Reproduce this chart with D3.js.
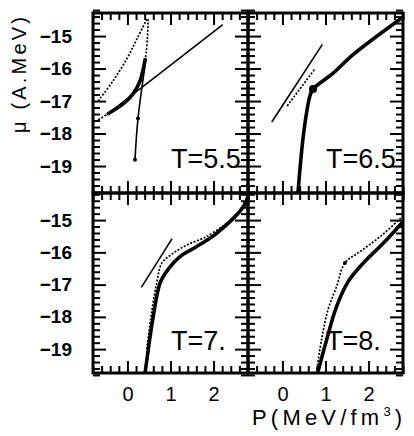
<!DOCTYPE html>
<html>
<head>
<meta charset="utf-8">
<script src="https://cdn.jsdelivr.net/npm/d3@7"></script>
<style>
  body { margin: 0; background: #fff; }
  svg { display: block; font-family: "Liberation Sans", Arial, sans-serif; }
  .axis path { display: none; }
  .axis line { stroke: #000; stroke-width: 2; }
  .axis text { fill: #000; }
  .ylab text { font-size: 19px; font-weight: bold; }
  .xlab text { font-size: 20px; }
</style>
</head>
<body>
<div id="chart"></div>
<script>
'use strict';

// panel labels and tick labels
const temps = ['T=5.5', 'T=6.5', 'T=7.', 'T=8.'];
const xTicks = [0, 1, 2];
const yTicks = [-15, -16, -17, -18, -19];

// curves, [P, mu] pairs
const thin55 = [[-0.45, -17.39], [2.20, -14.66]];
const thick55 = [[-0.45, -17.39], [-0.10, -17.09], [0.13, -16.78], [0.29, -16.39], [0.41, -15.72]];
const steep55 = [[0.175, -18.81], [0.245, -17.54], [0.43, -15.72]];
const dotA55 = [[-0.68, -17.0], [-0.34, -16.39], [-0.01, -15.69], [0.22, -15.09], [0.45, -14.48]];
const dotB55 = [[-0.75, -17.63], [-0.45, -17.39], [0.13, -16.78], [0.41, -15.72], [0.48, -14.48]];
const marks55 = [[0.175, -18.81], [0.245, -17.54]];

const thin65 = [[-0.24, -17.63], [0.92, -15.27]];
const dot65 = [[0.11, -17.15], [0.76, -16.0]];
const thick65 = [[0.36, -19.83], [0.50, -17.91], [0.64, -16.84], [0.71, -16.63], [1.17, -16.15], [1.64, -15.57], [2.73, -14.48]];
const marks65 = [[0.71, -16.63]];

const thin7 = [[0.33, -17.07], [1.03, -15.59]];
const thick7 = [[0.41, -19.74], [0.60, -17.98], [0.76, -16.94], [0.91, -16.59], [1.22, -16.13], [1.61, -15.82], [2.07, -15.41], [2.69, -14.59], [2.8, -14.26]];
const dot7 = [[0.45, -19.0], [0.56, -17.87], [0.68, -16.95], [0.80, -16.33], [1.06, -16.03], [1.38, -15.77], [1.84, -15.51], [2.3, -15.1]];

const dot8 = [[0.80, -19.62], [0.91, -18.69], [1.06, -17.77], [1.26, -17.05], [1.45, -16.33], [1.80, -15.98], [2.27, -15.51], [2.8, -14.88]];
const thick8 = [[0.83, -19.67], [1.03, -18.69], [1.26, -17.67], [1.53, -16.90], [1.88, -16.33], [2.34, -15.72], [2.8, -15.05]];
const marks8 = [[1.45, -16.33]];

const panels = [
  { label: temps[0], col: 0, row: 0, lines: [
      { d: dotA55, s: 'dot' }, { d: dotB55, s: 'dot' }, { d: thin55, s: 'thin' },
      { d: thick55, s: 'thick' }, { d: steep55, s: 'thin' }], marks: marks55, r: 2 },
  { label: temps[1], col: 1, row: 0, lines: [
      { d: dot65, s: 'dot' }, { d: thin65, s: 'thin' }, { d: thick65, s: 'thick' }], marks: marks65, r: 4 },
  { label: temps[2], col: 0, row: 1, lines: [
      { d: dot7, s: 'dot' }, { d: thin7, s: 'thin' }, { d: thick7, s: 'thick' }], marks: [], r: 0 },
  { label: temps[3], col: 1, row: 1, lines: [
      { d: dot8, s: 'dot' }, { d: thick8, s: 'thick' }], marks: marks8, r: 2 },
];

const width = 414, height = 436;
const padLeft = 93, padTop = 13, pw = 155, ph = 180;
const yDomains = [[-19.83, -14.29], [-19.74, -14.16]];

const styles = {
  thin: { w: 1.6, dash: null },
  thick: { w: 3.6, dash: null },
  dot: { w: 1.7, dash: '2,1.6' },
};

const svg = d3.select('#chart').append('svg')
  .attr('width', width)
  .attr('height', height);

const x = d3.scaleLinear().domain([-0.8, 2.8]).range([0, pw]);
const fmt = d3.format('d');

// minor ticks every 0.2, skipping the integers
const xMinor = d3.range(-4, 15).map(i => +(i * 0.2).toFixed(1)).filter(v => v % 1 !== 0);
const yMinor = d3.range(-99, -70).map(i => +(i * 0.2).toFixed(1)).filter(v => v % 1 !== 0);

panels.forEach((p, i) => {
  const y = d3.scaleLinear().domain(yDomains[p.row]).range([ph, 0]);
  const g = svg.append('g')
    .attr('transform', 'translate(' + (padLeft + p.col * pw) + ',' + (padTop + p.row * ph) + ')');

  g.append('clipPath').attr('id', 'clip' + i)
    .append('rect').attr('width', pw).attr('height', ph);

  // inward ticks on all four sides
  [[xTicks, 12], [xMinor, 7]].forEach(([vals, len]) => {
    g.append('g').attr('class', 'axis').attr('transform', 'translate(0,' + ph + ')')
      .call(d3.axisBottom(x).tickValues(vals).tickSize(-len).tickFormat(''));
    g.append('g').attr('class', 'axis')
      .call(d3.axisTop(x).tickValues(vals).tickSize(-len).tickFormat(''));
  });
  [[yTicks, 13], [yMinor, 7]].forEach(([vals, len]) => {
    g.append('g').attr('class', 'axis')
      .call(d3.axisLeft(y).tickValues(vals).tickSize(-len).tickFormat(''));
    g.append('g').attr('class', 'axis').attr('transform', 'translate(' + pw + ',0)')
      .call(d3.axisRight(y).tickValues(vals).tickSize(-len).tickFormat(''));
  });

  if (p.col === 0) {
    g.append('g').attr('class', 'axis ylab')
      .call(d3.axisLeft(y).tickValues(yTicks).tickSize(0).tickPadding(21).tickFormat(fmt));
  }
  if (p.row === 1) {
    g.append('g').attr('class', 'axis xlab').attr('transform', 'translate(0,' + ph + ')')
      .call(d3.axisBottom(x).tickValues(xTicks).tickSize(0).tickPadding(14).tickFormat(fmt));
  }

  const line = d3.line()
    .x(d => x(d[0]))
    .y(d => y(d[1]))
    .curve(d3.curveCatmullRom.alpha(0.5));

  const plot = g.append('g').attr('clip-path', 'url(#clip' + i + ')');

  p.lines.forEach(l => {
    plot.append('path')
      .attr('d', line(l.d))
      .attr('fill', 'none')
      .attr('stroke', '#000')
      .attr('stroke-width', styles[l.s].w)
      .attr('stroke-dasharray', styles[l.s].dash)
      .attr('stroke-linecap', l.s === 'dot' ? 'butt' : 'round');
  });

  plot.selectAll('circle.mark').data(p.marks).enter()
    .append('circle')
    .attr('class', 'mark')
    .attr('cx', d => x(d[0]))
    .attr('cy', d => y(d[1]))
    .attr('r', p.r)
    .attr('fill', '#000');

  g.append('text')
    .attr('x', 78)
    .attr('y', p.row === 0 ? 155 : 157)
    .attr('font-size', 27)
    .text(p.label);

  // frame
  g.append('rect')
    .attr('width', pw)
    .attr('height', ph)
    .attr('fill', 'none')
    .attr('stroke', '#000')
    .attr('stroke-width', 3);
});

// axis titles
svg.append('text')
  .attr('transform', 'translate(26,75) rotate(-90)')
  .attr('text-anchor', 'middle')
  .attr('font-size', 20)
  .attr('textLength', 116)
  .attr('lengthAdjust', 'spacing')
  .text('μ (A.MeV)');

const xt = svg.append('text')
  .attr('x', 252)
  .attr('y', 425)
  .attr('font-size', 22)
  .attr('letter-spacing', 4.2);
xt.append('tspan').text('P(MeV/fm');
xt.append('tspan').attr('font-size', 13).attr('dy', -9).text('3');
xt.append('tspan').attr('dy', 9).text(')');
</script>
</body>
</html>
